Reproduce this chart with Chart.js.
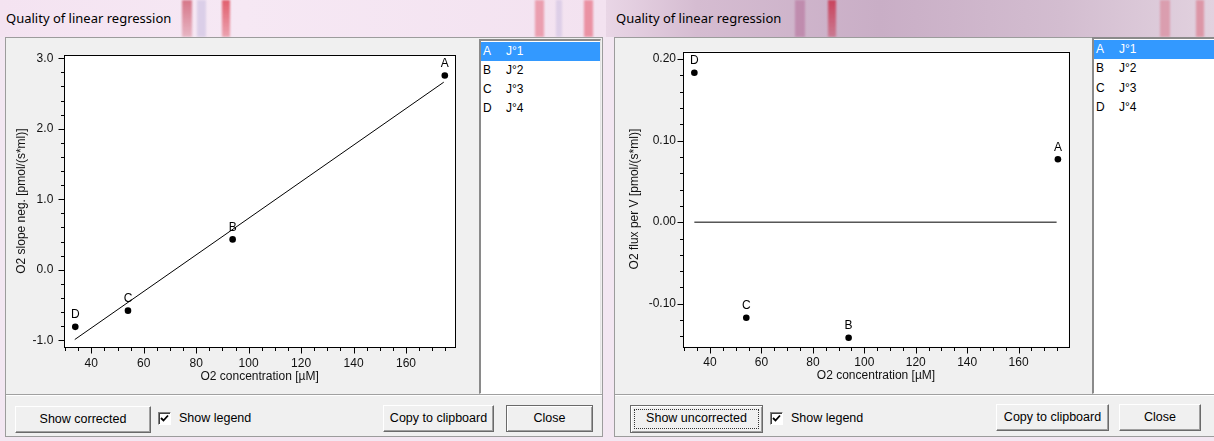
<!DOCTYPE html>
<html>
<head>
<meta charset="utf-8">
<script src="https://cdn.jsdelivr.net/npm/chart.js@4.4.1/dist/chart.umd.min.js"></script>
<style>
    body { margin: 0; width: 1214px; height: 441px; position: relative; overflow: hidden; background: #f3e7f2; font-family: "Liberation Sans", Arial, sans-serif; }
    .bar { position: absolute; top: 0; height: 37px; }
    .stripe { position: absolute; top: 0; height: 37px; filter: blur(1px); }
    .caption { position: absolute; top: 9px; font: 13px "Noto Sans", sans-serif; color: #000; white-space: nowrap; }
    .client { position: absolute; background: #f0f0f0; border-left: 1px solid #9c9c9c; border-top: 1px solid #9c9c9c; box-sizing: border-box; }
    .list { position: absolute; background: #fff; border-top: 2px solid #8a8a8a; border-left: 2px solid #8a8a8a; border-right: 1px solid #e4e4e4; border-bottom: 1px solid #fff; box-sizing: border-box; font-size: 12px; color: #000; }
    .row { position: absolute; left: 0; right: 0; height: 19px; line-height: 19px; white-space: nowrap; }
    .row.sel { background: #3399ff; color: #fff; }
    .row span { position: absolute; }
    .sep { position: absolute; height: 1px; background: #a0a0a0; border-bottom: 1px solid #fff; }
    .btn { position: absolute; height: 27px; box-sizing: border-box; background: #f0f0f0; border: 1px solid; border-color: #fff #6a6a6a #6a6a6a #fff; box-shadow: inset -1px -1px 0 #a0a0a0; font-size: 12.5px; text-align: center; line-height: 25px; color: #000; }
    .btn.def { border-color: #6a6a6a; box-shadow: inset 1px 1px 0 #fff, inset -1px -1px 0 #a0a0a0; }
    .btn .focus { position: absolute; left: 3px; top: 3px; right: 3px; bottom: 3px; border: 1px dotted #333; }
    .check { position: absolute; width: 13px; height: 13px; box-sizing: border-box; background: #fff; border: 1px solid; border-color: #808080 #fff #fff #808080; box-shadow: inset 1px 1px 0 #404040; }
    .check svg { position: absolute; left: 1px; top: 1px; display: block; }
    .lbl { position: absolute; font-size: 12.5px; color: #000; white-space: nowrap; }
</style>
</head>
<body>

<!-- title bars -->
<div class="bar" style="left:0; width:606px; background:linear-gradient(to right,#f4e3f1,#f6e8f4 40%,#f3e2f0)"></div>
<div class="stripe" style="left:182px; width:10px; background:linear-gradient(to bottom,rgba(200,70,90,0.7),rgba(200,70,90,0.3))"></div>
<div class="stripe" style="left:197px; width:9px; background:rgba(180,170,215,0.4)"></div>
<div class="stripe" style="left:222px; width:8px; background:linear-gradient(to bottom,rgba(220,60,75,0.8),rgba(220,60,75,0.4))"></div>
<div class="stripe" style="left:535px; width:9px; background:rgba(225,90,110,0.5)"></div>
<div class="stripe" style="left:556px; width:6px; background:rgba(180,170,215,0.35)"></div>
<div class="stripe" style="left:584px; width:9px; background:rgba(225,80,100,0.55)"></div>
<div class="bar" style="left:606px; width:608px; background:linear-gradient(to right,#e9d6e6,#d5bcd1 15%,#c9aec6 45%,#d3bdd0 75%,#e2d2df)"></div>
<div class="stripe" style="left:795px; width:10px; background:rgba(170,80,130,0.4)"></div>
<div class="stripe" style="left:828px; width:8px; background:linear-gradient(to bottom,rgba(200,40,65,0.8),rgba(200,40,65,0.4))"></div>
<div class="stripe" style="left:1160px; width:10px; background:rgba(215,90,110,0.4)"></div>
<div class="stripe" style="left:1196px; width:8px; background:rgba(215,80,100,0.45)"></div>
<div class="caption" style="left:6px">Quality of linear regression</div>
<div class="caption" style="left:616px">Quality of linear regression</div>

<!-- left window -->
<div class="client" style="left:5px; top:37px; width:598px; height:400px; border-right:1px solid #9c9c9c; border-bottom:1px solid #9c9c9c"></div>
<canvas id="chartLeft" width="474" height="357" style="position:absolute; left:5px; top:37px"></canvas>
<div class="list" id="listLeft" style="left:479px; top:39px; width:122px; height:355px"></div>
<div class="sep" style="left:6px; top:394px; width:596px"></div>
<div class="btn" style="left:15px; top:406px; width:136px">Show corrected</div>
<div class="check" style="left:158px; top:412px"><svg width="9" height="9" viewBox="0 0 9 9"><path d="M1 4 L3.5 6.5 L8 1.5" stroke="#000" stroke-width="1.8" fill="none"/></svg></div>
<div class="lbl" style="left:179px; top:411px">Show legend</div>
<div class="btn" style="left:383px; top:405px; width:111px">Copy to clipboard</div>
<div class="btn def" style="left:506px; top:405px; width:87px">Close</div>

<!-- right window -->
<div class="client" style="left:614px; top:37px; width:600px; height:400px; border-bottom:1px solid #9c9c9c"></div>
<canvas id="chartRight" width="478" height="357" style="position:absolute; left:614px; top:37px"></canvas>
<div class="list" id="listRight" style="left:1092px; top:37px; width:122px; height:357px; border-right:none"></div>
<div class="sep" style="left:615px; top:394px; width:599px"></div>
<div class="btn def" style="left:630px; top:405px; width:133px; height:28px">Show uncorrected<div class="focus"></div></div>
<div class="check" style="left:770px; top:412px"><svg width="9" height="9" viewBox="0 0 9 9"><path d="M1 4 L3.5 6.5 L8 1.5" stroke="#000" stroke-width="1.8" fill="none"/></svg></div>
<div class="lbl" style="left:791px; top:411px">Show legend</div>
<div class="btn" style="left:996px; top:404px; width:113px">Copy to clipboard</div>
<div class="btn" style="left:1119px; top:404px; width:82px">Close</div>

<script>
    // point names and legend entries
    const pointNames = ['A', 'B', 'C', 'D'];
    const legendNames = ['J°1', 'J°2', 'J°3', 'J°4'];

    // left chart: uncorrected slope vs O2 concentration
    const o2ConcLeft = [174.8, 93.9, 54.0, 33.9];
    const slopeNeg = [2.755, 0.43, -0.58, -0.81];
    const fitLineX = [33.7, 174.4];
    const fitLineY = [-0.99, 2.66];

    // right chart: corrected flux per V vs O2 concentration
    const o2ConcRight = [175.3, 93.9, 54.1, 33.9];
    const fluxPerV = [0.077, -0.1416, -0.117, 0.183];
    const zeroLineX = [33.9, 174.8];
    const zeroLineY = [0, 0];

    const uiFont = '"Liberation Sans", Arial, sans-serif';
    Chart.defaults.font.family = uiFont;
    Chart.defaults.font.size = 12;
    Chart.defaults.color = '#111';

    // fill the legend list boxes
    function fillList(id, rowTops) {
        const box = document.getElementById(id);
        pointNames.forEach((name, i) => {
            const row = document.createElement('div');
            row.className = 'row' + (i === 0 ? ' sel' : '');
            row.style.top = rowTops[i] + 'px';
            row.innerHTML = `<span style="left:2px">${name}</span><span style="left:25px">${legendNames[i]}</span>`;
            box.appendChild(row);
        });
    }
    fillList('listLeft', [1, 20, 39, 58]);
    fillList('listRight', [1, 20, 40, 59]);

    // white plot background
    const plotBackground = {
        id: 'plotBackground',
        beforeDraw(chart) {
            const { ctx, chartArea: a } = chart;
            ctx.save();
            ctx.fillStyle = '#fff';
            ctx.fillRect(a.left, a.top, a.right - a.left, a.bottom - a.top);
            ctx.restore();
        }
    };

    // letters above the points
    const pointLabels = {
        id: 'pointLabels',
        afterDatasetsDraw(chart) {
            const ctx = chart.ctx;
            const meta = chart.getDatasetMeta(1);
            ctx.save();
            ctx.font = '12px ' + uiFont;
            ctx.fillStyle = '#000';
            ctx.textAlign = 'center';
            ctx.textBaseline = 'middle';
            meta.data.forEach((pt, i) => {
                ctx.fillText(pointNames[i], pt.x, pt.y - 12);
            });
            ctx.restore();
        }
    };

    // box round the plot and the tick marks (long for labelled ticks, short for the others)
    const axisFrame = {
        id: 'axisFrame',
        afterDraw(chart) {
            const { ctx, chartArea: a, scales: { x, y } } = chart;
            const left = Math.round(a.left) + 0.5, right = Math.round(a.right) + 0.5;
            const top = Math.round(a.top) + 0.5, bottom = Math.round(a.bottom) + 0.5;
            ctx.save();
            ctx.strokeStyle = '#000';
            ctx.lineWidth = 1;
            ctx.strokeRect(left, top, right - left, bottom - top);
            ctx.beginPath();
            x.ticks.forEach(t => {
                const px = Math.round(x.getPixelForValue(t.value)) + 0.5;
                ctx.moveTo(px, bottom);
                ctx.lineTo(px, bottom + (t.label ? 6 : 3.5));
            });
            y.ticks.forEach(t => {
                const py = Math.round(y.getPixelForValue(t.value)) + 0.5;
                ctx.moveTo(left, py);
                ctx.lineTo(left - (t.label ? 6 : 3.5), py);
            });
            ctx.stroke();
            ctx.restore();
        }
    };

    function buildChart(canvasId, opts) {
        const points = opts.xs.map((v, i) => ({ x: v, y: opts.ys[i] }));
        const line = opts.lineX.map((v, i) => ({ x: v, y: opts.lineY[i] }));
        return new Chart(document.getElementById(canvasId), {
            type: 'scatter',
            data: {
                datasets: [
                    {
                        data: line,
                        showLine: true,
                        borderColor: '#000',
                        borderWidth: 1,
                        pointRadius: 0,
                    },
                    {
                        data: points,
                        backgroundColor: '#000',
                        borderColor: '#000',
                        pointRadius: 3.3,
                        borderWidth: 0,
                    },
                ],
            },
            options: {
                responsive: false,
                animation: false,
                layout: { padding: { left: 0, top: opts.padTop, right: opts.padRight, bottom: 0 } },
                plugins: { legend: { display: false }, tooltip: { enabled: false } },
                scales: {
                    x: {
                        type: 'linear',
                        min: opts.xMin,
                        max: opts.xMax,
                        grid: { display: false, drawTicks: false },
                        border: { display: false },
                        ticks: {
                            stepSize: 5,
                            includeBounds: false,
                            autoSkip: false,
                            maxRotation: 0,
                            padding: opts.xTickPad,
                            callback: v => (v % 20 === 0 ? String(v) : ''),
                        },
                        title: { display: true, text: 'O2 concentration [µM]', padding: { top: 0, bottom: opts.xTitlePad } },
                        afterFit: s => { s.height = opts.xHeight; },
                    },
                    y: {
                        min: opts.yMin,
                        max: opts.yMax,
                        grid: { display: false, drawTicks: false },
                        border: { display: false },
                        ticks: {
                            stepSize: opts.yStep,
                            includeBounds: false,
                            autoSkip: false,
                            padding: opts.yTickPad,
                            callback: opts.yLabel,
                        },
                        title: { display: true, text: opts.yTitle, padding: { top: opts.yTitlePad, bottom: 0 } },
                        afterFit: s => { s.width = opts.yWidth; },
                    },
                },
            },
            plugins: [plotBackground, pointLabels, axisFrame],
        });
    }

    buildChart('chartLeft', {
        xs: o2ConcLeft, ys: slopeNeg, lineX: fitLineX, lineY: fitLineY,
        xMin: 29.6, xMax: 178.8, yMin: -1.1, yMax: 3.047, yStep: 0.2,
        yLabel: v => (Math.abs(v - Math.round(v)) < 1e-9 ? v.toFixed(1) : ''),
        yTitle: 'O2 slope neg. [pmol/(s*ml)]',
        padTop: 15, padRight: 23.7, xHeight: 46.7, yWidth: 59,
        xTickPad: 9.5, xTitlePad: 10, yTickPad: 10.7, yTitlePad: 9.8,
    });

    buildChart('chartRight', {
        xs: o2ConcRight, ys: fluxPerV, lineX: zeroLineX, lineY: zeroLineY,
        xMin: 29.6, xMax: 179.5, yMin: -0.1525, yMax: 0.209, yStep: 0.02,
        yLabel: v => (Math.abs(v * 10 - Math.round(v * 10)) < 1e-6 ? v.toFixed(2) : ''),
        yTitle: 'O2 flux per V [pmol/(s*ml)]',
        padTop: 11, padRight: 23.3, xHeight: 47.3, yWidth: 69.3,
        xTickPad: 8.8, xTitlePad: 11, yTickPad: 7.3, yTitlePad: 13.5,
    });
</script>
</body>
</html>
